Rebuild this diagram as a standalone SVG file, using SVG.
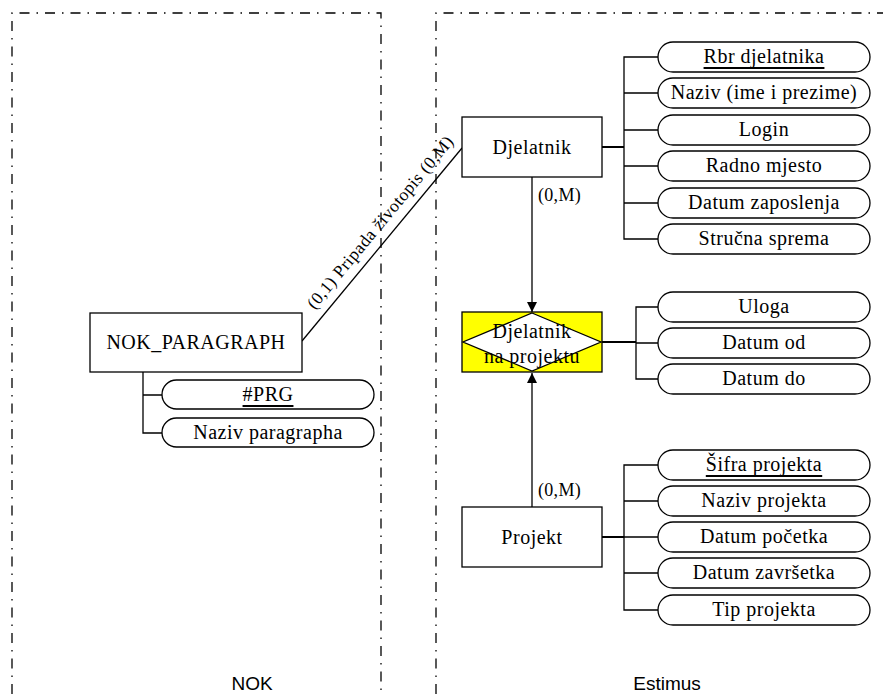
<svg xmlns="http://www.w3.org/2000/svg" width="883" height="694" viewBox="0 0 883 694">
<style>
.frame{fill:none;stroke:#000;stroke-width:1.3;stroke-dasharray:10 7 1.5 7}
.ent{fill:#fff;stroke:#000;stroke-width:1.3}
.pill{fill:#fff;stroke:#000;stroke-width:1.3}
.ln{fill:none;stroke:#000;stroke-width:1.3}
.thk{fill:none;stroke:#000;stroke-width:2}
text{font-family:"Liberation Serif","DejaVu Serif",serif;font-size:20px;letter-spacing:0.5px;fill:#000;text-anchor:middle;dominant-baseline:central}
.u{text-decoration:underline}
.lbl{font-size:18px;text-anchor:start;letter-spacing:0.3px}
.big{font-size:19px;letter-spacing:0;font-family:"Liberation Sans Narrow","Liberation Sans",sans-serif}
</style>
<defs>
<marker id="arr" viewBox="0 0 10 10" refX="10" refY="5" markerWidth="10" markerHeight="10" markerUnits="userSpaceOnUse" orient="auto">
<path d="M0,0 L10,5 L0,10 z" fill="#000"/>
</marker>
</defs>
<g id="frames">
<path class="frame" d="M12,694 V13 H381 V694"/>
<path class="frame" d="M436,694 V13 H883"/>
<text class="big" x="252" y="683">NOK</text>
<text class="big" x="667" y="683">Estimus</text>
</g>
<g id="connectors">
<line class="ln" x1="302" y1="341" x2="462" y2="148"/>
<text style="font-size:17.5px" transform="translate(380,222) rotate(-50.3)">(0,1) Pripada životopis (0,M)</text>
<line class="ln" x1="532" y1="177" x2="532" y2="312" marker-end="url(#arr)"/>
<text class="lbl" x="538" y="195">(0,M)</text>
<line class="ln" x1="532" y1="507" x2="532" y2="373" marker-end="url(#arr)"/>
<text class="lbl" x="538" y="490">(0,M)</text>
<line class="thk" x1="602" y1="147" x2="624" y2="147"/>
<path class="ln" d="M658,57 H624 V239 H658 M624,93 H658 M624,130 H658 M624,166 H658 M624,203 H658"/>
<line class="thk" x1="602" y1="342" x2="636" y2="342"/>
<path class="ln" d="M658,307 H636 V379 H658 M636,343 H658"/>
<line class="thk" x1="602" y1="537" x2="624" y2="537"/>
<path class="ln" d="M658,465 H624 V610 H658 M624,501 H658 M624,537 H658 M624,573 H658"/>
<path class="ln" d="M143,372 V433 H162 M143,395 H162"/>
</g>
<g id="djelatnik">
<rect class="ent" x="462" y="117" width="140" height="60"/>
<text x="532" y="147">Djelatnik</text>
</g>
<g id="djelatnik-attrs">
<rect class="pill" x="658" y="42" width="212" height="30" rx="15"/>
<text class="u" x="764" y="56">Rbr djelatnika</text>
<rect class="pill" x="658" y="78" width="212" height="30" rx="15"/>
<text x="764" y="92">Naziv (ime i prezime)</text>
<rect class="pill" x="658" y="115" width="212" height="30" rx="15"/>
<text x="764" y="129">Login</text>
<rect class="pill" x="658" y="151" width="212" height="30" rx="15"/>
<text x="764" y="165">Radno mjesto</text>
<rect class="pill" x="658" y="188" width="212" height="30" rx="15"/>
<text x="764" y="202">Datum zaposlenja</text>
<rect class="pill" x="658" y="224" width="212" height="30" rx="15"/>
<text x="764" y="238">Stručna sprema</text>
</g>
<g id="djelatnik-na-projektu">
<rect x="462" y="312" width="140" height="60" fill="#ffff00" stroke="#000" stroke-width="1.3"/>
<polygon points="532,313 601,342 532,371 463,342" fill="#fff" stroke="#000" stroke-width="1.3"/>
<text x="532" y="331">Djelatnik</text>
<text x="532" y="356">na projektu</text>
</g>
<g id="dnp-attrs">
<rect class="pill" x="658" y="292" width="212" height="30" rx="15"/>
<text x="764" y="306">Uloga</text>
<rect class="pill" x="658" y="328" width="212" height="30" rx="15"/>
<text x="764" y="342">Datum od</text>
<rect class="pill" x="658" y="364" width="212" height="30" rx="15"/>
<text x="764" y="378">Datum do</text>
</g>
<g id="projekt">
<rect class="ent" x="462" y="507" width="140" height="60"/>
<text x="532" y="537">Projekt</text>
</g>
<g id="projekt-attrs">
<rect class="pill" x="658" y="450" width="212" height="30" rx="15"/>
<text class="u" x="764" y="464">Šifra projekta</text>
<rect class="pill" x="658" y="486" width="212" height="30" rx="15"/>
<text x="764" y="500">Naziv projekta</text>
<rect class="pill" x="658" y="522" width="212" height="30" rx="15"/>
<text x="764" y="536">Datum početka</text>
<rect class="pill" x="658" y="558" width="212" height="30" rx="15"/>
<text x="764" y="572">Datum završetka</text>
<rect class="pill" x="658" y="595" width="212" height="30" rx="15"/>
<text x="764" y="609">Tip projekta</text>
</g>
<g id="nok-paragraph">
<rect class="ent" x="90" y="313" width="212" height="59"/>
<text x="196" y="342">NOK_PARAGRAPH</text>
</g>
<g id="nok-attrs">
<rect class="pill" x="162" y="380" width="212" height="29" rx="14.5"/>
<text class="u" x="268" y="394">#PRG</text>
<rect class="pill" x="162" y="418" width="212" height="29" rx="14.5"/>
<text x="268" y="432">Naziv paragrapha</text>
</g>
</svg>
